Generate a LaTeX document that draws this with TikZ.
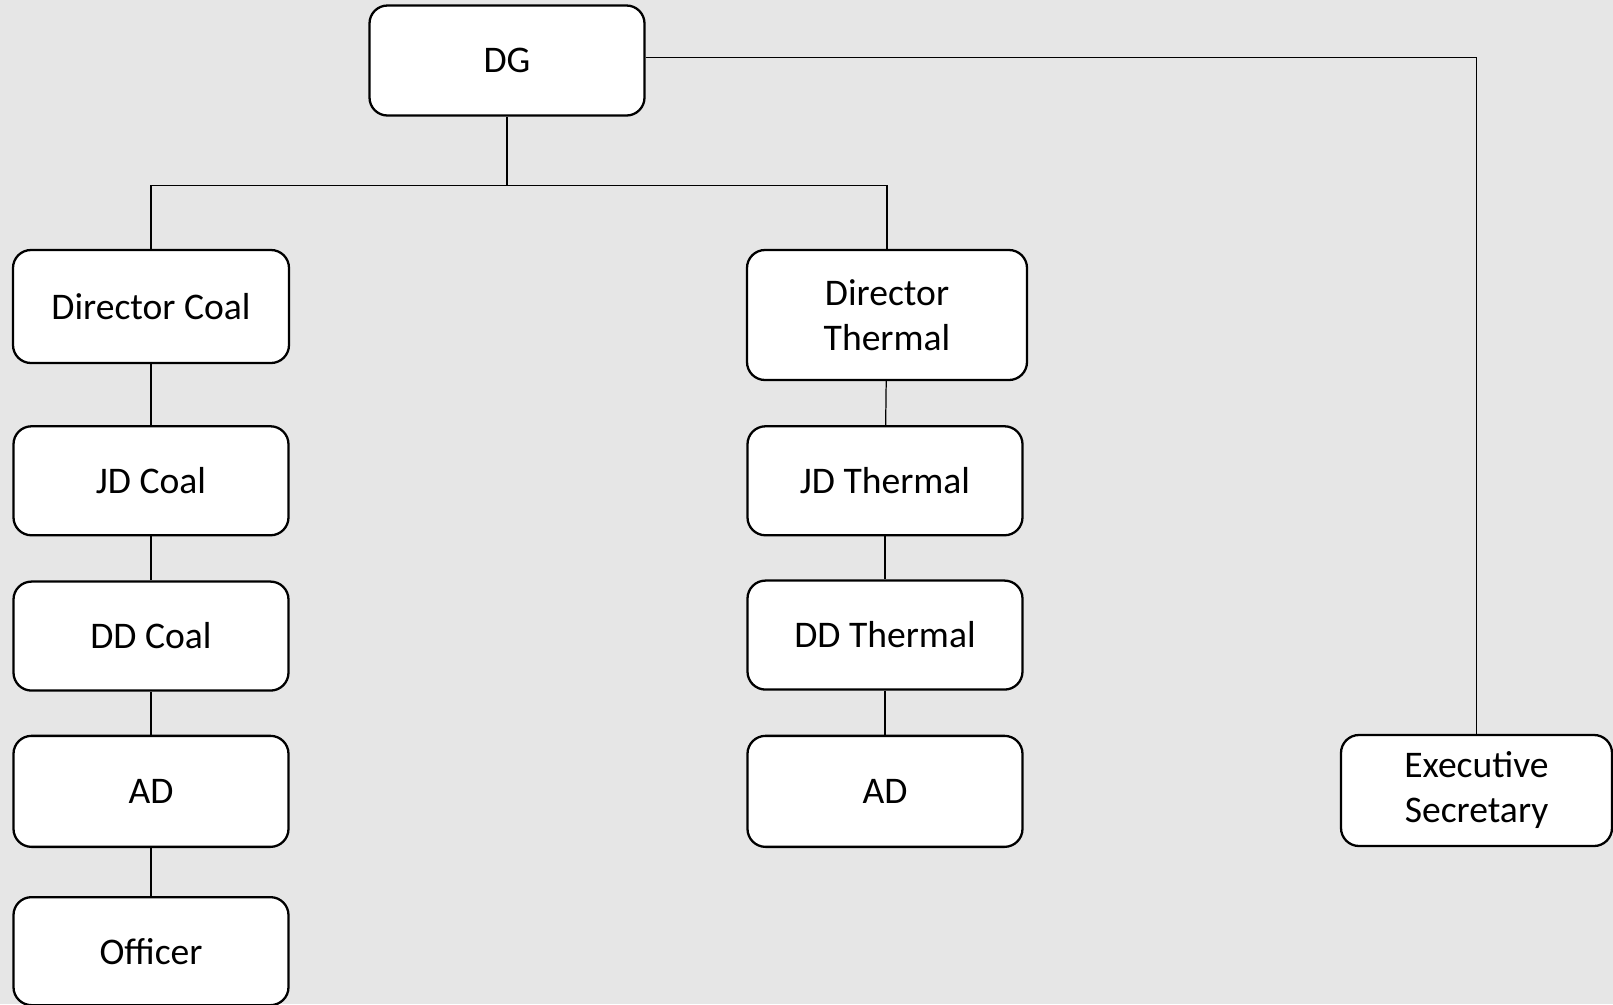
\documentclass[tikz,border=0pt]{standalone}
\usepackage{fontspec}
\setmainfont{Carlito}
\usepackage{xcolor}
\usepackage{tikz}
\usetikzlibrary{positioning}

\definecolor{pagegray}{RGB}{230,230,230}

\begin{document}
\begin{tikzpicture}[
    node distance=0.44cm,
    box/.style={rectangle, draw, line width=0.65pt, rounded corners=0.18cm, fill=white, minimum width=2.75cm, minimum height=1.09cm, align=center, inner sep=2pt, font=\fontsize{10.7pt}{12.8pt}\selectfont},
    link/.style={draw, line width=0.35pt}
]
    \fill[pagegray] (0,0) rectangle (16.13,-10.04);
    \useasboundingbox (0,0) rectangle (16.13,-10.04);

    \node[box, minimum height=1.1cm] (dg) at (5.07,-0.605) {DG};
    \coordinate[below=0.69cm of dg.south] (bus);

    % coal branch
    \node[box, minimum width=2.76cm, minimum height=1.13cm] (dircoal) at (1.51,-3.065) {Director Coal};
    \node[box, below=0.61cm of dircoal] (jdcoal) {JD Coal};
    \node[box, below=of jdcoal] (ddcoal) {DD Coal};
    \node[box, below=0.43cm of ddcoal, minimum height=1.11cm] (adcoal) {AD};
    \node[box, below=0.48cm of adcoal, minimum height=1.08cm] (officer) {Officer};

    % thermal branch
    \node[box, minimum width=2.8cm, minimum height=1.3cm] (dirtherm) at (8.87,-3.15) {Director\\Thermal};
    \node[box, below=of dirtherm, xshift=-0.02cm] (jdtherm) {JD Thermal};
    \node[box, below=0.43cm of jdtherm] (ddtherm) {DD Thermal};
    \node[box, below=of ddtherm, minimum height=1.11cm] (adtherm) {AD};

    \node[box, minimum width=2.71cm, minimum height=1.11cm] (exec) at (14.765,-7.905) {Executive\\Secretary};

    \draw[link] (dg) -- (bus);
    \draw[link] (bus) -| (dircoal);
    \draw[link] (bus) -| (dirtherm);
    \draw[link] ([yshift=0.03cm]dg.east) -| (exec);
    \draw[link] (dircoal) -- (jdcoal);
    \draw[link] (jdcoal) -- (ddcoal);
    \draw[link] (ddcoal) -- (adcoal);
    \draw[link] (adcoal) -- (officer);
    \draw[link] (dirtherm) -- (jdtherm);
    \draw[link] (jdtherm) -- (ddtherm);
    \draw[link] (ddtherm) -- (adtherm);
\end{tikzpicture}
\end{document}
